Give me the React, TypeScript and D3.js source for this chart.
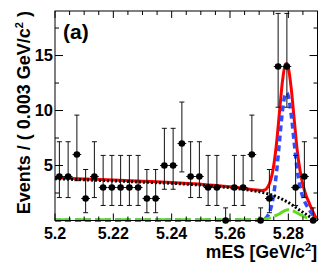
import React from 'react';
import * as d3 from 'd3';

// binned data: mES bin centres (0.003 GeV wide) and event counts
const binCenters = [
  5.2015, 5.2045, 5.2075, 5.2105, 5.2135, 5.2165, 5.2195, 5.2225, 5.2255, 5.2285,
  5.2315, 5.2345, 5.2375, 5.2405, 5.2435, 5.2465, 5.2495, 5.2525, 5.2555, 5.2585,
  5.2615, 5.2645, 5.2675, 5.2705, 5.2735, 5.2765, 5.2795, 5.2825, 5.2855, 5.2885,
];
const counts = [4, 4, 6, 2, 4, 3, 3, 3, 3, 3, 2, 2, 5, 5, 7, 4, 4, 3, 3, 0, 3, 3, 6, 0, 2, 14, 14, 3, 4, 0];

// 68% Poisson intervals indexed by count
const poissonLow = [0, 0.173, 0.708, 1.367, 2.086, 2.84, 3.62, 4.419, 5.232, 6.057, 6.891, 7.734, 8.585, 9.441, 10.3];
const poissonHigh = [1.148, 3.3, 4.638, 5.918, 7.163, 8.382, 9.584, 10.77, 11.95, 13.11, 14.27, 15.42, 16.56, 17.7, 18.83];

// fit curves
const curveX = [
  5.2, 5.21, 5.22, 5.23, 5.24, 5.25, 5.26, 5.265, 5.268, 5.27, 5.271, 5.272, 5.273, 5.274, 5.275,
  5.276, 5.277, 5.278, 5.279, 5.2795, 5.28, 5.281, 5.282, 5.283, 5.284, 5.285, 5.286, 5.287, 5.288, 5.289, 5.29,
];
const totalFit = [
  3.88, 3.78, 3.68, 3.57, 3.46, 3.3, 3.06, 2.9, 2.79, 2.74, 2.73, 2.78, 3.06, 3.71, 5.02,
  7.14, 9.97, 12.7, 14.2, 14.27, 13.91, 11.99, 9.22, 6.49, 4.56, 3.27, 2.35, 1.69, 1.05, 0.48, 0,
];
const signalFit = [
  0.02, 0.02, 0.02, 0.02, 0.02, 0.02, 0.02, 0.02, 0.02, 0.04, 0.07, 0.15, 0.45, 1.1, 2.4,
  4.5, 7.3, 10.0, 11.5, 11.6, 11.3, 9.6, 7.1, 4.7, 3.1, 2.1, 1.5, 1.05, 0.65, 0.3, 0,
];
const combFit = [
  3.8, 3.7, 3.6, 3.49, 3.38, 3.22, 2.98, 2.82, 2.7, 2.62, 2.56, 2.5, 2.43, 2.35, 2.26,
  2.16, 2.05, 1.92, 1.78, 1.71, 1.64, 1.47, 1.3, 1.11, 0.92, 0.75, 0.57, 0.4, 0.24, 0.1, 0,
];
const peakingFit = [
  0.06, 0.06, 0.06, 0.06, 0.06, 0.06, 0.06, 0.06, 0.07, 0.08, 0.1, 0.13, 0.18, 0.26, 0.36,
  0.48, 0.62, 0.78, 0.92, 0.96, 0.97, 0.92, 0.82, 0.68, 0.54, 0.42, 0.28, 0.2, 0.13, 0.07, 0,
];

const xTicks = [5.2, 5.22, 5.24, 5.26, 5.28];
const xTickLabels = ['5.2', '5.22', '5.24', '5.26', '5.28'];
const yTicks = [5, 10, 15];

const W = 332;
const H = 263;
const margin = { left: 55, top: 11, right: 14.5, bottom: 42.5 };
const font = 'Liberation Sans, Arial, Helvetica, sans-serif';

const App = () => {
  const x = d3.scaleLinear().domain([5.2, 5.29]).range([margin.left, W - margin.right]);
  const y = d3.scaleLinear().domain([0, 19.05]).range([H - margin.bottom, margin.top]);
  const x0 = margin.left;
  const x1 = W - margin.right;
  const y0 = H - margin.bottom;
  const y1 = margin.top;

  const line = (vals: number[]) =>
    d3
      .line<number>()
      .x((_, i) => x(curveX[i]))
      .y(d => y(d))
      .curve(d3.curveMonotoneX)(vals) ?? '';

  const xMinor = d3.range(0, 19).map(i => 5.2 + i * 0.005);
  const yMinor = d3.range(1, 8).map(i => i * 2.5);
  const halfBin = 0.0015;

  return (
    <svg width={W} height={H} style={{ position: 'absolute', left: 0, top: 0 }} fontFamily={font}>
      <rect width={W} height={H} fill="#fff" />

      {/* fit components */}
      <path d={line(totalFit)} fill="none" stroke="#ff0000" strokeWidth={3} />
      <path d={line(signalFit)} fill="none" stroke="#2f4dff" strokeWidth={3.5} strokeDasharray="6,4" />
      <path d={line(combFit)} fill="none" stroke="#000" strokeWidth={3} strokeDasharray="2,2" />
      <path d={line(peakingFit)} fill="none" stroke="#5cdc1c" strokeWidth={3} strokeDasharray="16,4" />

      {/* data points */}
      {counts.map((n, i) => {
        const cx = x(binCenters[i]);
        const cy = y(n);
        const lo = y(poissonLow[n]);
        const hi = y(poissonHigh[n]);
        return (
          <g key={i}>
            <line x1={cx} x2={cx} y1={lo} y2={hi} stroke="#111" strokeWidth={1} />
            <line x1={cx - 2.5} x2={cx + 2.5} y1={lo} y2={lo} stroke="#111" strokeWidth={1} />
            <line x1={cx - 2.5} x2={cx + 2.5} y1={hi} y2={hi} stroke="#111" strokeWidth={1} />
            <line x1={x(binCenters[i] - halfBin)} x2={x(binCenters[i] + halfBin)} y1={cy} y2={cy} stroke="#111" strokeWidth={1} />
            <circle cx={cx} cy={cy} r={3.3} fill="#000" />
          </g>
        );
      })}

      {/* frame */}
      <rect x={x0} y={y1} width={x1 - x0} height={y0 - y1} fill="none" stroke="#000" strokeWidth={1} />

      {/* x ticks */}
      {xMinor.map((v, i) => {
        const major = i % 4 === 0;
        const len = major ? 7 : 4;
        return (
          <g key={'xt' + i}>
            <line x1={x(v)} x2={x(v)} y1={y0} y2={y0 - len} stroke="#000" />
            <line x1={x(v)} x2={x(v)} y1={y1} y2={y1 + len} stroke="#000" />
          </g>
        );
      })}
      {/* y ticks */}
      {yMinor.map((v, i) => {
        const major = v % 5 === 0;
        const len = major ? 8 : 4;
        return (
          <g key={'yt' + i}>
            <line x1={x0} x2={x0 + len} y1={y(v)} y2={y(v)} stroke="#000" />
            <line x1={x1} x2={x1 - len} y1={y(v)} y2={y(v)} stroke="#000" />
          </g>
        );
      })}

      {/* tick labels */}
      {xTicks.map((v, i) => (
        <text key={'xl' + i} x={x(v)} y={238.5} textAnchor="middle" fontSize={16} fontWeight="bold">
          {xTickLabels[i]}
        </text>
      ))}
      {yTicks.map(v => (
        <text key={'yl' + v} x={53} y={y(v)} dy="0.36em" textAnchor="end" fontSize={16.5} fontWeight="bold">
          {v}
        </text>
      ))}

      {/* axis titles */}
      <text x={317} y={257.5} textAnchor="end" fontSize={17.5} fontWeight="bold">
        mES [GeV/c<tspan dy={-7} fontSize={11}>2</tspan>
        <tspan dy={7}>]</tspan>
      </text>
      <text transform={`translate(30,${y1}) rotate(-90)`} textAnchor="end" fontSize={18} fontWeight="bold">
        Events / ( 0.003 GeV/c<tspan dy={-7} fontSize={11}>2</tspan>
        <tspan dy={7}> )</tspan>
      </text>

      <text x={63} y={39} fontSize={21} fontWeight="bold">
        (a)
      </text>
    </svg>
  );
};

export default App;
